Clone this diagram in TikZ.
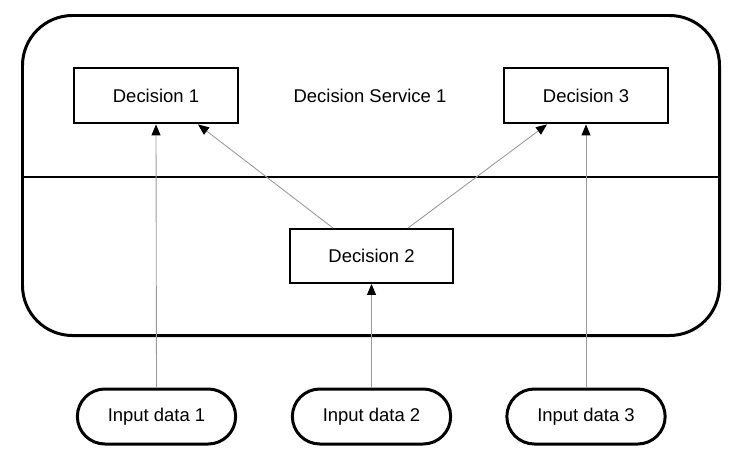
\documentclass[tikz,border=0pt]{standalone}
\usepackage{fontspec}
\setmainfont{Liberation Sans}
\usetikzlibrary{arrows.meta,shapes.misc}

\tikzset{
  decision/.style={draw, line width=1.6pt, minimum width=3.28cm, minimum height=1.1cm, font=\fontsize{10.5}{12}\selectfont},
  inputdata/.style={draw, rounded rectangle, line width=1.7pt, minimum width=3.4cm, minimum height=1.1cm, font=\fontsize{10.5}{12}\selectfont},
  dep/.style={draw=black!40, line width=0.5pt, -{Triangle[length=2.2mm,width=1.8mm,color=black]}}
}

\begin{document}
\begin{tikzpicture}
\useasboundingbox (0,0) rectangle (14.82,-9.32);

%% decision service
\node [draw, line width=1.7pt, rounded corners=1cm, minimum width=13.94cm, minimum height=6.4cm] (svc) at (7.42,-3.51) {}; % service boundary
\draw [line width=0.8pt] (svc.west |- 0,-3.54) -- (svc.east |- 0,-3.54); % output / encapsulated divider
\node [font=\fontsize{10.5}{12}\selectfont] (svclabel) at (7.4,-1.92) {Decision Service 1};

%% decisions
\node [decision] (d1) at (3.12,-1.91) {Decision 1};
\node [decision] (d3) at (11.72,-1.91) {Decision 3};
\node [decision, line width=1.1pt, minimum width=3.26cm, minimum height=1.08cm] (d2) at (7.43,-5.12) {Decision 2};

%% input data
\node [inputdata] (in1) at (3.13,-8.33) {Input data 1};
\node [inputdata] (in2) at (7.43,-8.33) {Input data 2};
\node [inputdata] (in3) at (11.72,-8.33) {Input data 3};

%% requirements
\draw [dep] (in1.north) -- (d1.south); % input 1 to decision 1
\draw [dep] (in2.north) -- (d2.south); % input 2 to decision 2
\draw [dep] (in3.north) -- (d3.south); % input 3 to decision 3
\draw [dep] ([xshift=-0.77cm]d2.north) -- ([xshift=0.84cm]d1.south); % decision 2 to decision 1
\draw [dep] ([xshift=0.73cm]d2.north) -- ([xshift=-0.78cm]d3.south); % decision 2 to decision 3

\end{tikzpicture}
\end{document}
